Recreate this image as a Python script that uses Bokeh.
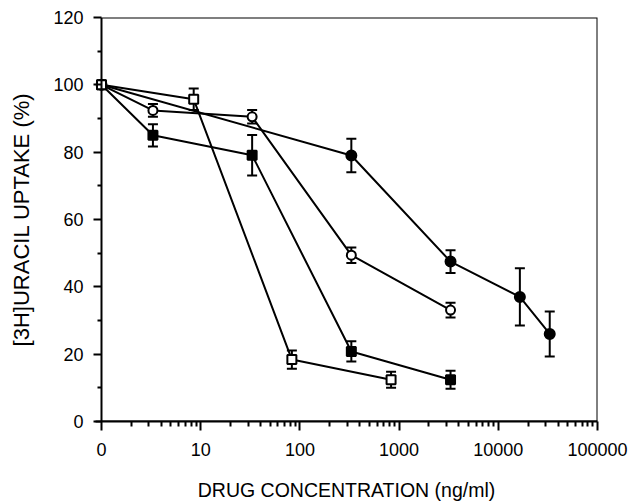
from bokeh.plotting import figure
from bokeh.models import Range1d, FixedTicker, Whisker, ColumnDataSource, TeeHead, BoxAnnotation
from bokeh.embed import file_html
from bokeh.resources import INLINE

# Data (x in ng/ml; "0" drawn at x=1 on the log axis)
fc_x = [1, 330, 3300, 16500, 33000]
fc_y = [100, 79, 47.5, 37, 26]
fc_e = [0, 5, 3.4, 8.5, 6.7]

oc_x = [1, 3.3, 33, 330, 3300]
oc_y = [100, 92.4, 90.5, 49.4, 33.1]
oc_e = [0, 1.9, 2, 2.3, 2.2]

fs_x = [1, 3.3, 33, 330, 3300]
fs_y = [100, 85, 79.1, 20.8, 12.4]
fs_e = [0, 3.3, 6, 3, 2.7]

os_x = [1, 8.5, 83, 830]
os_y = [100, 95.7, 18.4, 12.4]
os_e = [0, 3.2, 2.7, 2.4]

x_ticks = [1, 10, 100, 1000, 10000, 100000]
x_tick_labels = ["0", "10", "100", "1000", "10000", "100000"]
y_ticks = [0, 20, 40, 60, 80, 100, 120]

FONT = "Liberation Sans"
X0, X1, Y0, Y1 = 1, 100000, 0, 120

p = figure(width=637, height=504, x_axis_type="log",
           x_range=Range1d(0.87, X1), y_range=Range1d(Y0, Y1),
           output_backend="svg", toolbar_location=None,
           min_border_left=95, min_border_right=40, min_border_top=17, min_border_bottom=83)

p.grid.visible = False
p.outline_line_color = None
p.background_fill_color = "white"
p.border_fill_color = "white"

minor = [m * d for d in [1, 10, 100, 1000, 10000] for m in range(2, 10)]
p.xaxis.ticker = FixedTicker(ticks=x_ticks, minor_ticks=minor)
p.xaxis.major_label_overrides = {t: l for t, l in zip(x_ticks, x_tick_labels)}
p.yaxis.ticker = FixedTicker(ticks=y_ticks, minor_ticks=list(range(10, 120, 20)))

for ax in (p.xaxis[0], p.yaxis[0]):
    ax.axis_line_width = 2
    ax.axis_line_color = "black"
    ax.major_tick_line_width = 2
    ax.minor_tick_line_width = 2
    ax.major_tick_line_color = "black"
    ax.minor_tick_line_color = "black"
    ax.major_label_text_font = FONT
    ax.major_label_text_font_size = "18px"
    ax.major_label_text_color = "black"
    ax.axis_label_text_font = FONT
    ax.axis_label_text_font_style = "normal"
    ax.axis_label_text_color = "black"

p.xaxis.major_tick_in = 0
p.xaxis.minor_tick_in = 0
p.xaxis.major_tick_out = 9
p.xaxis.minor_tick_out = 5
# y axis line is drawn by the box's left edge (at x = 1), ~6px inside the frame edge
p.yaxis.axis_line_color = None
p.yaxis.major_tick_out = 2
p.yaxis.major_tick_in = 6
p.yaxis.minor_tick_out = -2
p.yaxis.minor_tick_in = 6
p.xaxis.major_label_standoff = 12
p.yaxis.major_label_standoff = 10

p.xaxis.axis_label = "DRUG CONCENTRATION (ng/ml)"
p.yaxis.axis_label = "[3H]URACIL UPTAKE (%)"
p.xaxis.axis_label_text_font_size = "19.5px"
p.yaxis.axis_label_text_font_size = "22px"
p.xaxis.axis_label_standoff = 20
p.yaxis.axis_label_standoff = 16

# plot box (left edge = y axis line, top and right borders)
p.add_layout(BoxAnnotation(left=X0, right=X1, bottom=Y0, top=Y1, fill_alpha=0,
                           line_color="black", line_alpha=1, line_width=2))

series = [
    (fc_x, fc_y, fc_e, "circle", "black", 10),
    (oc_x, oc_y, oc_e, "circle", "white", 9),
    (fs_x, fs_y, fs_e, "square", "black", 9),
    (os_x, os_y, os_e, "square", "white", 9),
]

for xs, ys, es, _, _, _ in series:
    p.line(xs, ys, line_color="black", line_width=2)

for xs, ys, es, _, _, _ in series:
    src = ColumnDataSource(dict(x=xs, lo=[y - e for y, e in zip(ys, es)], hi=[y + e for y, e in zip(ys, es)]))
    w = Whisker(source=src, base="x", lower="lo", upper="hi", line_color="black", line_width=2,
                upper_head=TeeHead(size=10, line_width=2, line_color="black"),
                lower_head=TeeHead(size=10, line_width=2, line_color="black"))
    p.add_layout(w)

for xs, ys, es, mk, fill, sz in series:
    p.scatter(xs, ys, marker=mk, size=sz, fill_color=fill, line_color="black", line_width=2)

open("out.html", "w").write(file_html(p, INLINE))
